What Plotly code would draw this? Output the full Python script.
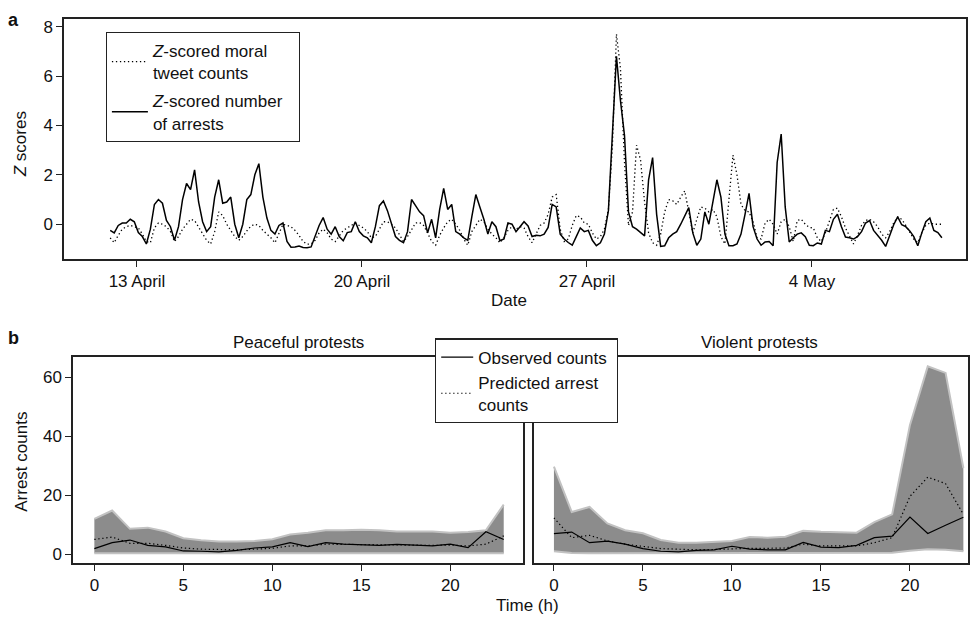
import pandas as pd
import plotly.graph_objects as go

# ---------------- Panel a data (3-hourly, starting 12 April 2015 04:00) ----------------
series_start = "2015-04-12 04:00"
arrests_z = [
    -0.25, -0.35, -0.05, 0.05, 0.05, 0.2, 0.1, -0.34,
    -0.5, -0.8, -0.2, 0.8, 1.0, 0.85, 0.15, -0.1,
    -0.65, -0.1, 1.0, 1.65, 1.4, 2.2, 0.9, 0.1,
    -0.3, -0.1, 1.1, 1.8, 0.85, 0.9, 1.1, 0.0,
    -0.55, 0.0, 1.0, 1.2, 2.0, 2.45, 1.1, 0.25,
    -0.25, -0.4, -0.05, 0.05, -0.7, -0.93, -0.92, -0.88,
    -0.94, -0.95, -0.92, -0.5, -0.05, 0.27, -0.2, -0.4,
    -0.1, -0.5, -0.67, -0.34, -0.3, 0.1, -0.3, -0.47,
    -0.55, -0.75, -0.1, 0.75, 0.94, 0.55, 0.0, -0.5,
    -0.65, -0.75, -0.3, 1.0, 0.75, 0.5, 0.35, -0.35,
    0.2, -0.55, 0.6, 1.45, 0.6, 0.8, -0.3, -0.4,
    -0.55, -0.65, 0.3, 1.2, 0.7, 0.2, -0.4, 0.1,
    -0.1, -0.67, -0.6, 0.05, 0.0, -0.3, -0.1, 0.1,
    -0.07, -0.5, -0.45, -0.47, -0.4, -0.13, 0.8, 0.7,
    -0.4, -0.6, -0.74, -0.85, -0.5, -0.15, -0.3, -0.25,
    -0.65, -0.87, -0.75, -0.4, 0.55, 3.8, 6.8, 5.0,
    3.6, 0.5, -0.1, -0.2, -0.35, -0.47, 1.8, 2.7,
    0.4, -0.9, -0.87, -0.55, -0.4, -0.3, 0.0, 0.35,
    0.67, -0.35, -0.85, -0.6, 0.5, 0.0, 0.9, 1.8,
    1.1, -0.4, -0.87, -0.87, -0.8, -0.4, 0.4, 1.25,
    -0.1, -0.6, -0.85, -0.72, -0.7, -0.87, 2.5, 3.65,
    0.7, -0.72, -0.55, -0.4, -0.35, -0.5, -0.85, -0.87,
    -0.76, -0.8, -0.25, -0.3, 0.2, 0.4, -0.1, -0.52,
    -0.55, -0.6, -0.5, -0.3, 0.05, 0.15, -0.25, -0.45,
    -0.65, -0.9, -0.47, -0.02, 0.3, -0.02, -0.1, -0.27,
    -0.5, -0.87, -0.35, 0.1, 0.25, -0.25, -0.34, -0.55,
]
tweets_z = [
    -0.55, -0.75, -0.45, -0.2, -0.1, -0.05, -0.1, -0.15,
    -0.4, -0.7, -0.75, -0.15, 0.05, 0.0, -0.1, -0.3,
    -0.7, -0.5, -0.2, 0.0, 0.2, 0.15, -0.1, -0.35,
    -0.65, -0.8, -0.3, 0.5, 0.35, 0.0, -0.25, -0.5,
    -0.65, -0.5, -0.27, -0.08, 0.0, -0.05, -0.25, -0.4,
    -0.55, -0.75, -0.4, 0.0, -0.05, -0.1, -0.25, -0.45,
    -0.7, -0.81, -0.8, -0.65, -0.35, -0.2, -0.35, -0.6,
    -0.7, -0.45, -0.25, -0.15, -0.05, 0.05, -0.05, -0.15,
    -0.3, -0.55, -0.5, -0.2, 0.1, 0.1, 0.0, -0.15,
    -0.45, -0.7, -0.5, -0.2, 0.05, 0.07, -0.05, -0.35,
    -0.7, -0.85, -0.45, -0.15, 0.1, 0.2, 0.0, -0.25,
    -0.6, -0.85, -0.3, -0.05, 0.2, 0.1, -0.2, -0.4,
    -0.55, -0.75, -0.55, -0.25, -0.1, -0.2, -0.1, -0.15,
    -0.5, -0.75, -0.4, -0.05, 0.05, 0.4, 1.1, 1.2,
    -0.2, -0.7, -0.6, -0.05, 0.35, 0.3, 0.05, 0.0,
    -0.35, -0.6, -0.5, -0.2, 0.6, 3.2, 7.7, 6.3,
    2.5, -0.05, 0.5, 3.2, 2.6, 0.9, -0.35, -0.75,
    -0.85, -0.4, 0.5, 1.0, 0.95, 0.8, 1.1, 1.35,
    0.5, -0.35, 0.2, 0.7, 0.65, 0.5, 0.6, 0.3,
    -0.5, -0.8, 1.0, 2.8, 2.0, 0.8, 0.55, 0.5,
    0.1, -0.55, -0.6, 0.05, 0.2, 0.0, -0.4, 0.1,
    0.2, -0.1, -0.7, 0.15, 0.2, 0.0, -0.13, -0.15,
    -0.55, -0.7, -0.35, 0.1, 0.6, 0.65, 0.3, -0.15,
    -0.45, -0.8, -0.45, -0.05, 0.15, 0.2, 0.1, -0.1,
    -0.4, -0.55, -0.3, 0.05, 0.3, 0.2, -0.05, -0.3,
    -0.6, -0.75, -0.35, -0.05, 0.05, 0.0, 0.0, 0.0,
]
date_ticks = ["2015-04-13", "2015-04-20", "2015-04-27", "2015-05-04"]
date_tick_labels = ["13 April", "20 April", "27 April", "4 May"]

# ---------------- Panel b data (hour of day) ----------------
hours = list(range(24))
peaceful_observed = [1.9, 3.9, 4.8, 3.0, 2.5, 1.1, 1.0, 0.8, 1.3, 2.1, 2.5, 3.9,
                     2.6, 3.9, 3.4, 3.1, 3.0, 3.3, 3.1, 2.8, 3.4, 2.2, 7.6, 5.0]
peaceful_predicted = [5.0, 5.8, 3.7, 3.7, 3.0, 2.1, 1.7, 1.5, 1.5, 1.7, 2.0, 2.8,
                      2.8, 3.4, 3.3, 3.3, 3.1, 3.1, 3.0, 3.0, 3.1, 2.8, 3.4, 6.2]
peaceful_upper = [12.0, 14.8, 8.6, 9.0, 7.7, 5.4, 4.7, 4.3, 4.3, 4.5, 5.1, 6.7,
                  7.3, 8.1, 8.1, 8.3, 8.1, 7.7, 7.7, 7.7, 7.3, 7.5, 8.1, 16.8]
peaceful_lower = [0.3] * 24
violent_observed = [7.0, 7.5, 3.9, 4.4, 3.4, 1.9, 1.0, 0.8, 1.3, 1.5, 2.7, 1.7,
                    1.5, 1.5, 4.0, 2.4, 2.2, 3.0, 5.6, 6.1, 12.6, 7.0, 9.8, 12.5]
violent_predicted = [12.3, 5.6, 6.4, 4.5, 3.4, 2.6, 1.9, 1.7, 1.5, 1.6, 1.9, 2.0,
                     2.0, 2.1, 3.4, 2.8, 2.8, 2.8, 3.9, 5.6, 19.6, 26.1, 23.9, 13.5]
violent_upper = [29.7, 14.3, 16.0, 10.4, 8.1, 7.1, 4.8, 3.9, 3.9, 4.2, 4.5, 5.8,
                 5.6, 5.9, 7.9, 7.6, 7.5, 7.3, 10.9, 13.5, 43.8, 63.6, 61.4, 29.2]
violent_lower = [1.0, 0.4, 0.3, 0.3, 0.3, 0.3, 0.3, 0.3, 0.3, 0.3, 0.3, 0.3,
                 0.3, 0.3, 0.3, 0.3, 0.3, 0.3, 0.3, 0.5, 1.2, 1.7, 1.5, 1.0]

times = pd.date_range(series_start, periods=len(arrests_z), freq="3h")

FONT = "Liberation Sans, Arial, Helvetica, sans-serif"
W, H = 974, 620
BAND_FILL = "#8c8c8c"
BAND_EDGE = "#c2c2c2"
AX = "#222222"
DOT = "1.3px,2.7px"


def px(x):
    return x / W


def py(y):
    return 1 - y / H


fig = go.Figure()

# Panel a
fig.add_trace(go.Scatter(x=times, y=tweets_z, mode="lines",
                         line=dict(color="black", width=1.3, dash=DOT),
                         name="<i>Z</i>-scored moral<br>tweet counts",
                         legend="legend", legendgroup="a1"))
fig.add_trace(go.Scatter(x=times, y=arrests_z, mode="lines",
                         line=dict(color="black", width=1.5),
                         name="<i>Z</i>-scored number&nbsp;&nbsp;<br>of arrests",
                         legend="legend", legendgroup="a2"))

# Panel b
for xa, ya, lo, up, obs, pred, show in [
    ("x2", "y2", peaceful_lower, peaceful_upper, peaceful_observed, peaceful_predicted, True),
    ("x3", "y3", violent_lower, violent_upper, violent_observed, violent_predicted, False),
]:
    fig.add_trace(go.Scatter(x=hours, y=lo, mode="lines", xaxis=xa, yaxis=ya,
                             line=dict(color=BAND_EDGE, width=2), showlegend=False,
                             hoverinfo="skip"))
    fig.add_trace(go.Scatter(x=hours, y=up, mode="lines", xaxis=xa, yaxis=ya,
                             fill="tonexty", fillcolor=BAND_FILL,
                             line=dict(color=BAND_EDGE, width=2), showlegend=False,
                             hoverinfo="skip"))
    fig.add_trace(go.Scatter(x=hours, y=obs, mode="lines", xaxis=xa, yaxis=ya,
                             line=dict(color="black", width=1.2),
                             name="Observed counts&nbsp;", legend="legend2",
                             legendgroup="b1", showlegend=show))
    fig.add_trace(go.Scatter(x=hours, y=pred, mode="lines", xaxis=xa, yaxis=ya,
                             line=dict(color="black", width=1.2, dash=DOT),
                             name="Predicted arrest<br>counts", legend="legend2",
                             legendgroup="b2", showlegend=show))

axis_common = dict(showline=True, mirror=True, linecolor=AX, linewidth=1.5,
                   ticks="outside", ticklen=6, tickwidth=1.2, tickcolor=AX,
                   showgrid=False, zeroline=False,
                   tickfont=dict(family=FONT, size=17, color="#111"))

fig.update_layout(
    width=W, height=H, autosize=False,
    margin=dict(l=0, r=0, t=0, b=0),
    paper_bgcolor="white", plot_bgcolor="white",
    font=dict(family=FONT, size=17, color="#111"),
    xaxis=dict(domain=[px(64), px(966)], anchor="y", type="date",
               range=["2015-04-10 17:30", "2015-05-08 19:00"],
               tickvals=date_ticks, ticktext=date_tick_labels, **axis_common),
    yaxis=dict(domain=[py(258.3), py(17.3)], anchor="x",
               range=[-1.41, 8.3], tickvals=[0, 2, 4, 6, 8], **axis_common),
    xaxis2=dict(domain=[px(73), px(523.3)], anchor="y2", range=[-1.2, 24.1],
                tickvals=[0, 5, 10, 15, 20], **axis_common),
    yaxis2=dict(domain=[py(563.5), py(357)], anchor="x2", range=[-2.9, 66.7],
                tickvals=[0, 20, 40, 60], **axis_common),
    xaxis3=dict(domain=[px(534), px(968)], anchor="y3", range=[-1.12, 23.26],
                tickvals=[0, 5, 10, 15, 20], **axis_common),
    yaxis3=dict(domain=[py(563.5), py(357)], anchor="x3", range=[-2.9, 66.7],
                showline=True, mirror=True, linecolor=AX, linewidth=1.5,
                ticks="", showticklabels=False, showgrid=False, zeroline=False),
    legend=dict(x=px(105.7), y=py(30), xanchor="left", yanchor="top",
                bgcolor="white", bordercolor=AX, borderwidth=1.2,
                font=dict(family=FONT, size=17, color="#111"),
                tracegroupgap=3, itemwidth=36),
    legend2=dict(x=px(435), y=py(338), xanchor="left", yanchor="top",
                 bgcolor="white", bordercolor=AX, borderwidth=1.2,
                 font=dict(family=FONT, size=17, color="#111"),
                 tracegroupgap=0, itemwidth=32),
    showlegend=True,
)

annotations = [
    dict(text="<b>a</b>", x=px(13), y=py(18), size=18, angle=0),
    dict(text="<i>Z</i> scores", x=px(20), y=py(143), size=17, angle=-90),
    dict(text="Date", x=px(509), y=py(300), size=17, angle=0),
    dict(text="<b>b</b>", x=px(13), y=py(338), size=18, angle=0),
    dict(text="Peaceful protests", x=px(298), y=py(342), size=17, angle=0),
    dict(text="Violent protests", x=px(759), y=py(342), size=17, angle=0),
    dict(text="Arrest counts", x=px(22), y=py(462), size=17, angle=-90),
    dict(text="Time (h)", x=px(527), y=py(606), size=17, angle=0),
]
for a in annotations:
    fig.add_annotation(text=a["text"], x=a["x"], y=a["y"], xref="paper", yref="paper",
                       showarrow=False, xanchor="center", yanchor="middle",
                       textangle=a["angle"],
                       font=dict(family=FONT, size=a["size"], color="#111"))

fig.write_html("out.html", config={"displayModeBar": False},
               post_script="document.body.style.margin='0';")
